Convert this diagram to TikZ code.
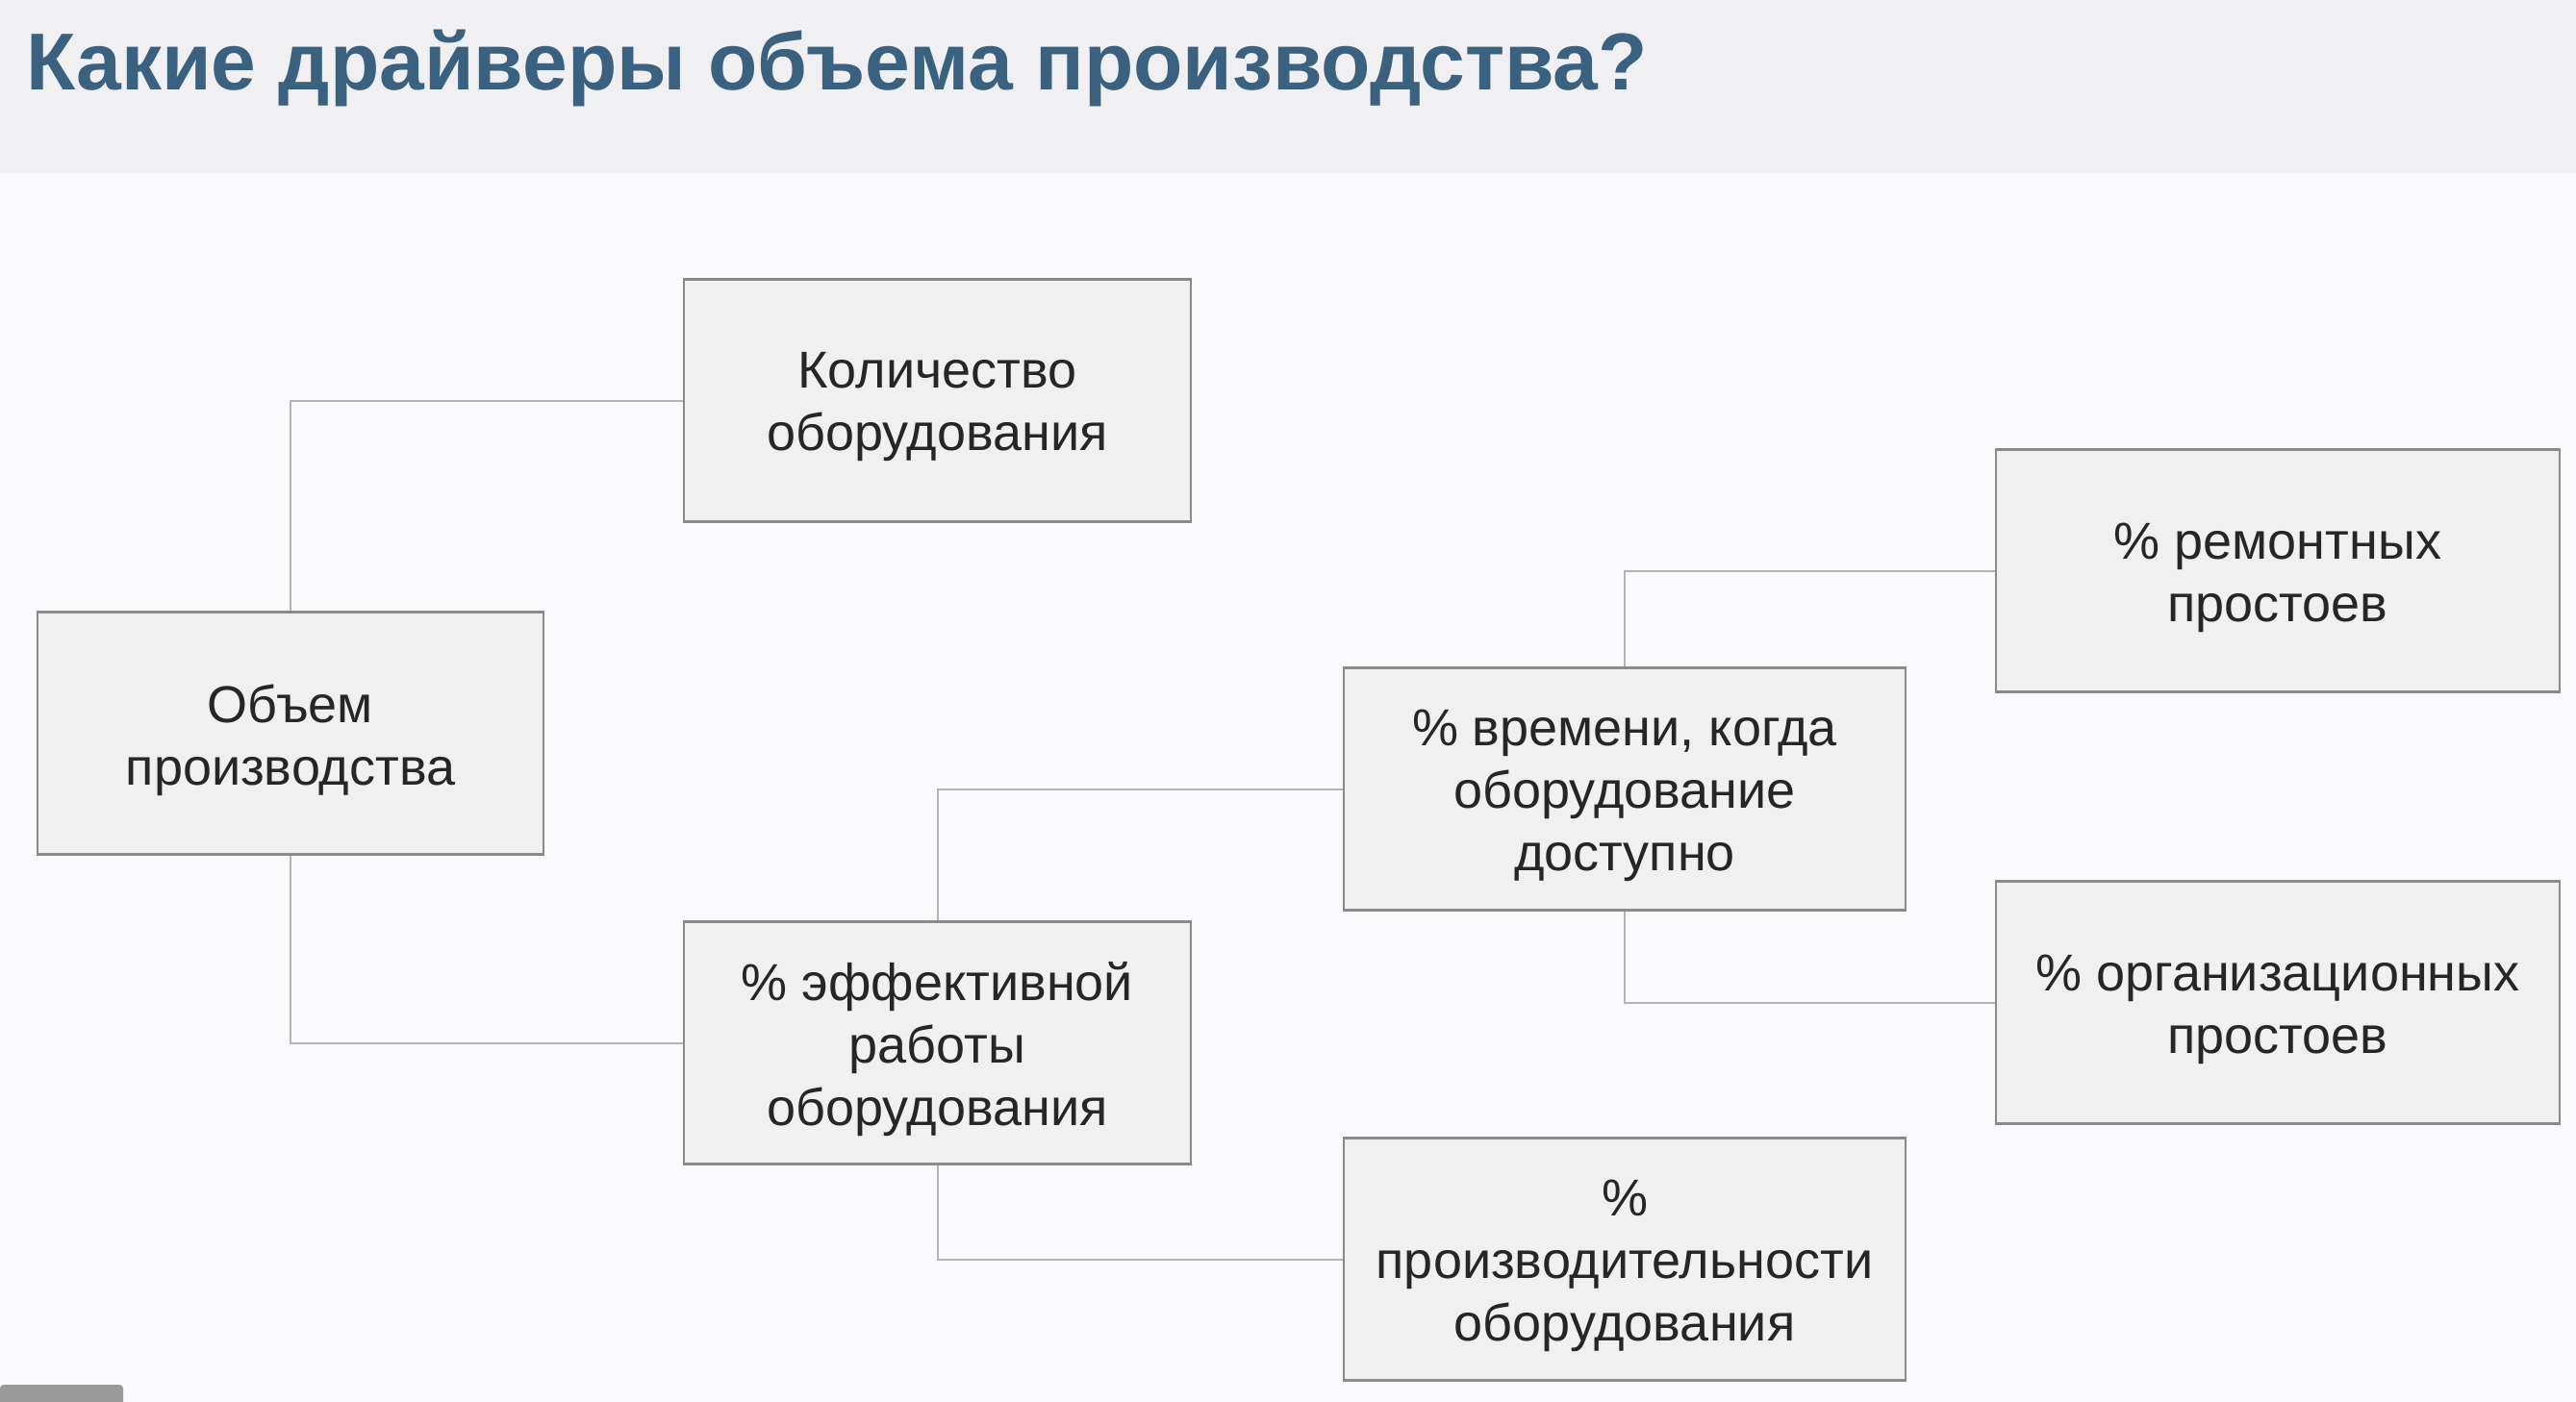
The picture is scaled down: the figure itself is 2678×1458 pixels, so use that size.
\documentclass[tikz,border=0pt]{standalone}
\usepackage{fontspec}
\setmainfont{Liberation Sans}
\definecolor{pagebg}{HTML}{FAFAFC}
\definecolor{bandbg}{HTML}{F0F0F2}
\definecolor{titlecol}{HTML}{3B6180}
\definecolor{boxfill}{HTML}{F0F0F1}
\definecolor{boxline}{HTML}{8A8A8A}
\definecolor{connline}{HTML}{B4B4B4}
\definecolor{txt}{HTML}{262626}
\begin{document}
\begin{tikzpicture}[x=1pt,y=-1pt,
  box/.style={draw=boxline, fill=boxfill, line width=2.5pt, minimum height=252pt, inner sep=0pt},
  boxtext/.style={align=center, text=txt, inner sep=0pt, font=\fontsize{54}{65}\selectfont},
  conn/.style={draw=connline, line width=2pt}]
\fill[pagebg] (0,0) rectangle (2678,1458);
\fill[bandbg] (0,0) rectangle (2678,180);
\useasboundingbox (0,0) rectangle (2678,1458);
\node[anchor=base west, text=titlecol, inner sep=0pt, font=\fontsize{84}{100}\selectfont\bfseries] (title) at (27,94) {Какие драйверы объема производства?};
\node[box, minimum width=526pt] (b1) at (302,762.5) {};
\node[box, minimum width=527pt] (b2) at (974.5,416.5) {};
\node[box, minimum width=527pt] (b3) at (974.5,1084.5) {};
\node[box, minimum width=584pt] (b4) at (1689,820.5) {};
\node[box, minimum width=584pt] (b5) at (1689,1309.5) {};
\node[box, minimum width=586pt] (b6) at (2368,593.5) {};
\node[box, minimum width=586pt] (b7) at (2368,1042.5) {};
\node[boxtext] (t1) at ([yshift=-7pt]b1.center) {Объем\\производства};
\node[boxtext] (t2) at ([yshift=-7pt]b2.center) {Количество\\оборудования};
\node[boxtext] (t3) at ([yshift=-7pt]b3.center) {\% эффективной\\работы\\оборудования};
\node[boxtext] (t4) at ([yshift=-7pt]b4.center) {\% времени, когда\\оборудование\\доступно};
\node[boxtext] (t5) at ([yshift=-7pt]b5.center) {\%\\производительности\\оборудования};
\node[boxtext] (t6) at ([yshift=-7pt]b6.center) {\% ремонтных\\простоев};
\node[boxtext] (t7) at ([yshift=-7pt]b7.center) {\% организационных\\простоев};
\draw[conn] (b1.north) |- (b2.west);
\draw[conn] (b1.south) |- (b3.west);
\draw[conn] (b3.north) |- (b4.west);
\draw[conn] (b3.south) |- (b5.west);
\draw[conn] (b4.north) |- (b6.west);
\draw[conn] (b4.south) |- (b7.west);
\fill[fill=black!40, rounded corners=4pt] (0,1440) rectangle (128,1470);
\end{tikzpicture}
\end{document}
